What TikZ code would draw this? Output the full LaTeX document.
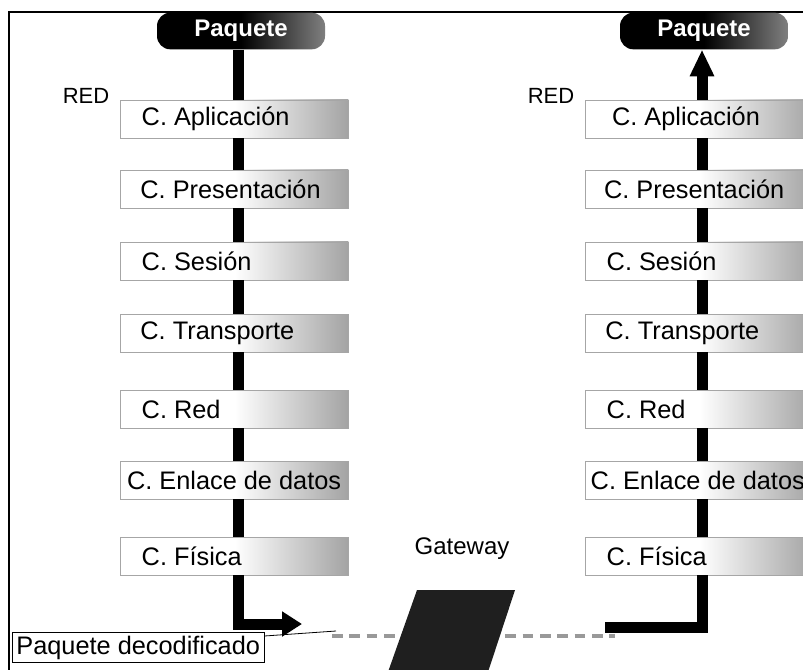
\documentclass[tikz,border=0pt]{standalone}
\usepackage{fontspec}
\setmainfont{Liberation Sans}
\usetikzlibrary{arrows.meta}
\definecolor{layergray}{gray}{0.64}
\definecolor{pillgray}{gray}{0.50}
\definecolor{wiregray}{gray}{0.60}
\newcommand{\layerbox}[2]{\makebox[171pt][l]{\hspace*{#1}#2}}
\tikzset{
	layer/.style={draw=gray!70, line width=0.6pt, left color=white, right color=layergray, middle color=white,
		anchor=west, minimum height=28.5pt, inner xsep=0pt, inner ysep=0pt,
		font=\fontsize{19}{22}\selectfont},
	pill/.style={rounded corners=10pt, left color=black, right color=pillgray, middle color=black,
		text=white, font=\fontsize{18}{21}\selectfont\bfseries, minimum width=126pt, minimum height=27.5pt},
	bar/.style={line width=8.25pt, black},
	tag/.style={font=\fontsize{16.5}{19}\selectfont},
}

\begin{document}
\begin{tikzpicture}[x=0.75pt, y=-0.75pt]
			\clip (0,0) rectangle (803,670);
			\fill[white] (0,0) rectangle (803,670);
			
			% frame
			\draw[black, line width=0.8pt] (9,670) -- (9,12) -- (803,12);
			
			\coordinate (barL) at (238,0);
			\coordinate (barR) at (702,0);
			
			% sending side
			\node[pill] (pL) at (241,31) {Paquete};
			\node[tag] (redL) at (86,96) {RED};
			\node[layer] (l1) at (120,119) {\layerbox{16pt}{C. Aplicación}};
			\node[layer] (l2) at (120,189) {\layerbox{15pt}{C. Presentación}};
			\node[layer] (l3) at (120,261) {\layerbox{16pt}{C. Sesión}};
			\node[layer] (l4) at (120,333) {\layerbox{15pt}{C. Transporte}};
			\node[layer] (l5) at (120,409) {\layerbox{16pt}{C. Red}};
			\node[layer] (l6) at (120,480) {\layerbox{5pt}{C. Enlace de datos}};
			\node[layer] (l7) at (120,556) {\layerbox{16pt}{C. Física}};
			
			% receiving side
			\node[pill] (pR) at (704,31) {Paquete};
			\node[tag] (redR) at (551,96) {RED};
			\node[layer] (r1) at (585,119) {\layerbox{20pt}{C. Aplicación}};
			\node[layer] (r2) at (585,189) {\layerbox{14pt}{C. Presentación}};
			\node[layer] (r3) at (585,261) {\layerbox{16pt}{C. Sesión}};
			\node[layer] (r4) at (585,333) {\layerbox{15pt}{C. Transporte}};
			\node[layer] (r5) at (585,409) {\layerbox{16pt}{C. Red}};
			\node[layer] (r6) at (585,480) {\layerbox{4pt}{C. Enlace de datos}};
			\node[layer] (r7) at (585,556) {\layerbox{16pt}{C. Física}};
			
			% gateway
			\node[font=\fontsize{18}{21}\selectfont] (gw) at (462,549) {Gateway};
			\draw[wiregray, line width=3pt, dash pattern=on 8pt off 5pt] (332,636) -- (615,636);
			\fill[black!88] (417,590) -- (515,590) -- (488,672) -- (388,672) -- cycle;
			
			% callout (under the arrow)
			\node[draw=black, fill=white, line width=0.6pt, anchor=north west, inner xsep=3pt, inner ysep=2.5pt,
				font=\fontsize{19}{22}\selectfont] (dec) at (12,632) {Paquete decodificado};
			\coordinate (decend) at (336,631);
			\draw[black, line width=0.6pt] ([yshift=-3pt]dec.north east) -- (decend);
			
			% bars down the sending stack
			\draw[bar] (pL.south -| barL) -- (l1.north -| barL);
			\draw[bar] (l1.south -| barL) -- (l2.north -| barL);
			\draw[bar] (l2.south -| barL) -- (l3.north -| barL);
			\draw[bar] (l3.south -| barL) -- (l4.north -| barL);
			\draw[bar] (l4.south -| barL) -- (l5.north -| barL);
			\draw[bar] (l5.south -| barL) -- (l6.north -| barL);
			\draw[bar] (l6.south -| barL) -- (l7.north -| barL);
			\coordinate (tipL) at (302,624);
			\draw[bar, -{Triangle[length=15pt, width=18pt]}] (l7.south -| barL) |- (tipL);
			
			% bars up the receiving stack
			\coordinate (startR) at (605,627);
			\draw[bar] (startR) -| (r7.south -| barR);
			\draw[bar] (r7.north -| barR) -- (r6.south -| barR);
			\draw[bar] (r6.north -| barR) -- (r5.south -| barR);
			\draw[bar] (r5.north -| barR) -- (r4.south -| barR);
			\draw[bar] (r4.north -| barR) -- (r3.south -| barR);
			\draw[bar] (r3.north -| barR) -- (r2.south -| barR);
			\draw[bar] (r2.north -| barR) -- (r1.south -| barR);
			\draw[bar, -{Triangle[length=20pt, width=17pt]}] (r1.north -| barR) -- (pR.south -| barR);
		\end{tikzpicture}
\end{document}
